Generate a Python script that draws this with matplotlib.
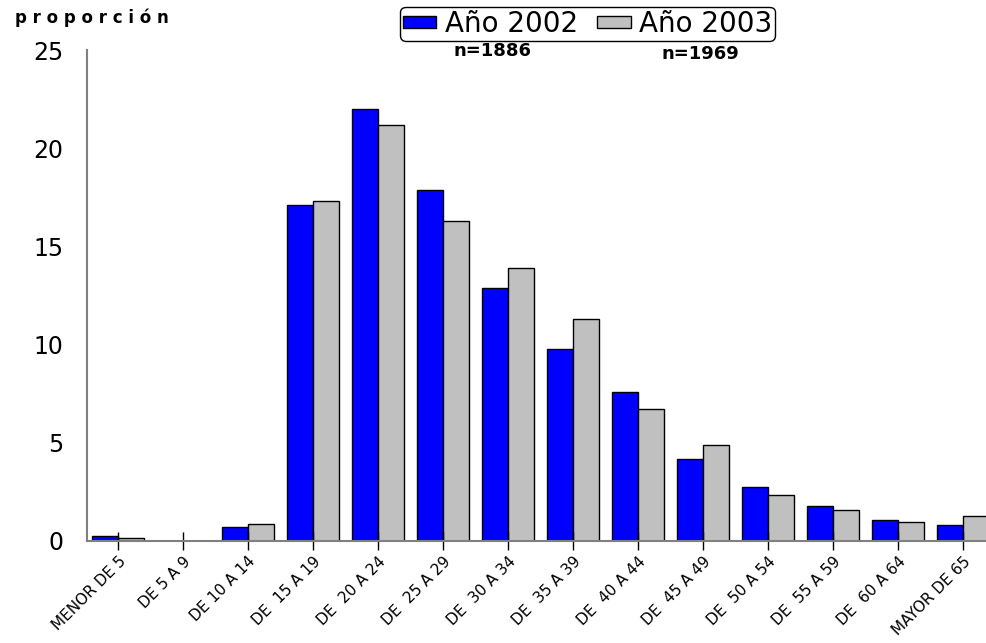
import numpy as np
import matplotlib
matplotlib.use("Agg")
import matplotlib.pyplot as plt
from matplotlib.patches import Patch

plt.rcParams['font.family'] = ['DejaVu Sans']

grupos = ['MENOR DE 5', 'DE 5 A 9', 'DE 10 A 14', 'DE  15 A 19', 'DE  20 A 24',
          'DE  25 A 29', 'DE  30 A 34', 'DE  35 A 39', 'DE  40 A 44', 'DE  45 A 49',
          'DE  50 A 54', 'DE  55 A 59', 'DE  60 A 64', 'MAYOR DE 65']
anio_2002 = [0.25, 0, 0.7, 17.1, 22.0, 17.85, 12.85, 9.75, 7.55, 4.15, 2.75, 1.75, 1.02, 0.77]
anio_2003 = [0.15, 0, 0.85, 17.3, 21.2, 16.3, 13.9, 11.3, 6.7, 4.85, 2.3, 1.57, 0.95, 1.26]

fig = plt.figure(figsize=(9.86, 6.43), dpi=100)
ax = fig.add_axes([0.0882, 0.1594, 0.9118, 0.7628])

x = np.arange(len(grupos))
w = 0.4
ax.bar(x - w / 2, anio_2002, w, color='#0000ff', edgecolor='black', linewidth=1)
ax.bar(x + w / 2, anio_2003, w, color='#c0c0c0', edgecolor='black', linewidth=1)

ax.set_xlim(-0.477, 13.35)
ax.set_ylim(0, 25)
ax.set_yticks([0, 5, 10, 15, 20, 25])
ax.tick_params(axis='y', length=0, labelsize=17, pad=17)
ax.set_xticks(x)
ax.set_xticklabels(grupos, rotation=45, ha='right', va='top', rotation_mode='anchor', fontsize=11)
ax.tick_params(axis='x', direction='inout', length=13, width=1, color='black', pad=3)

for s in ['top', 'right']:
    ax.spines[s].set_visible(False)
for s in ['left', 'bottom']:
    ax.spines[s].set_color('#808080')
    ax.spines[s].set_linewidth(1.5)

fig.text(0.015, 0.972, 'p r o p o r c i ó n', fontsize=12, fontweight='bold', va='center', ha='left')
fig.text(0.499, 0.921, 'n=1886', fontsize=13, fontweight='bold', ha='center', va='center')
fig.text(0.71, 0.916, 'n=1969', fontsize=13, fontweight='bold', ha='center', va='center')

handles = [Patch(facecolor='#0000ff', edgecolor='black', label='Año 2002'),
           Patch(facecolor='#c0c0c0', edgecolor='black', label='Año 2003')]
leg = fig.legend(handles=handles, loc='upper center', bbox_to_anchor=(0.596, 1.0), ncol=2,
                 fontsize=20, frameon=True, fancybox=True, handlelength=1.2, handleheight=0.3,
                 handletextpad=0.3, columnspacing=0.7, borderpad=0.1, borderaxespad=0.25)
leg.get_frame().set_edgecolor('black')
leg.get_frame().set_linewidth(1)
leg.get_frame().set_alpha(1)

fig.savefig('out.png', dpi=100)
